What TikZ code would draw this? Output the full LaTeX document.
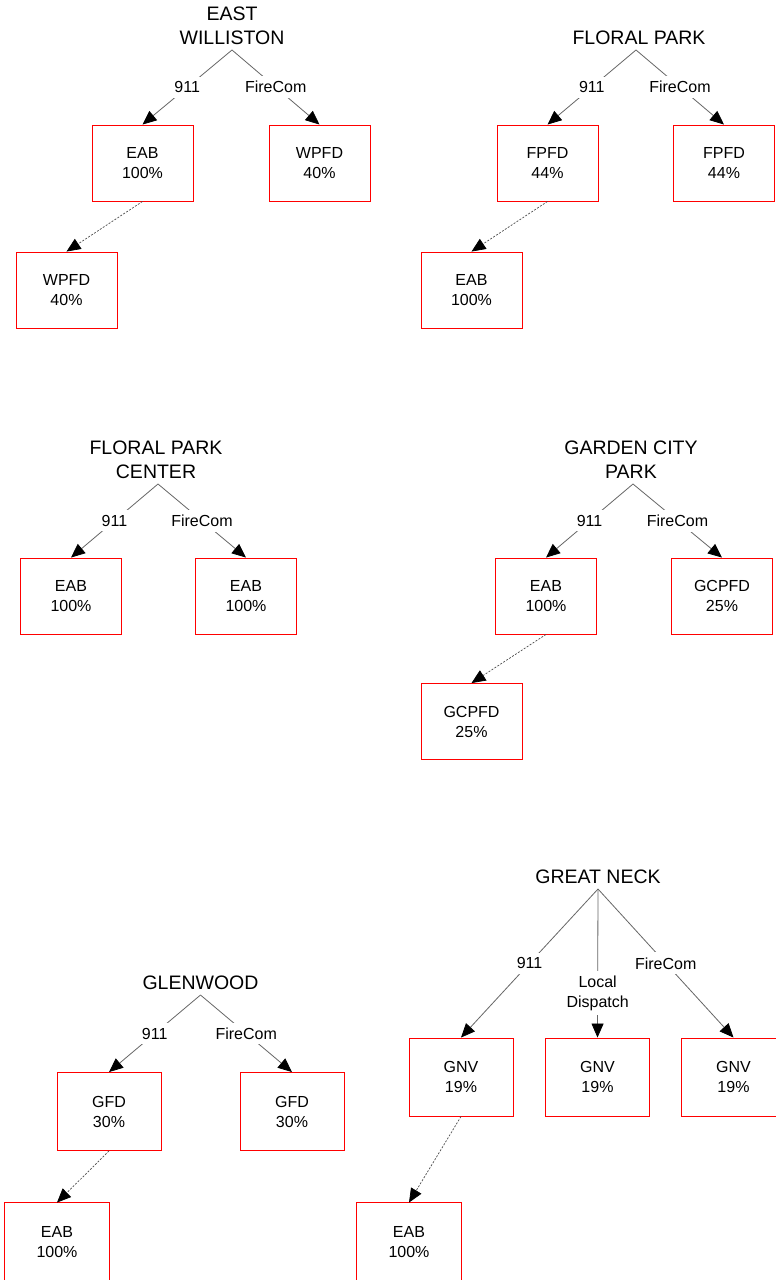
\documentclass[tikz,border=0pt]{standalone}
\usepackage{fontspec}
\setmainfont{Liberation Sans}
\usetikzlibrary{arrows.meta,positioning}

\begin{document}
\begin{tikzpicture}[
    x=1pt,y=-1pt,
    box/.style={draw=red,line width=0.9pt,minimum width=101pt,minimum height=76pt,
                inner sep=0pt,align=center,font=\fontsize{16}{20}\selectfont},
    bigbox/.style={box,minimum width=104pt,minimum height=78pt},
    rim/.style={draw=red,line width=0.9pt},
    town/.style={inner sep=0pt,align=center,font=\fontsize{19.5}{24}\selectfont},
    lbl/.style={fill=white,inner xsep=2pt,inner ysep=5pt,align=center,
                font=\fontsize{16}{20}\selectfont},
    feed/.style={draw=black!60,line width=0.8pt,
                 -{Triangle[length=14pt,width=12pt,color=black]}},
    backup/.style={draw=black!70,line width=0.7pt,dash pattern=on 2pt off 1.5pt,
                   -{Triangle[length=14pt,width=12pt,color=black]}}
  ]
  \fill[white] (0,0) rectangle (776,1280);
  \useasboundingbox (0,0) rectangle (776,1280);

  % East Williston
  \coordinate (ewP) at (232,50);
  \node[town,above=5pt of ewP] (ewT) {EAST\\WILLISTON};
  \node[box] (ewA) at (142.5,163) {EAB\\100\%};
  \node[box] (ewB) at (319.5,163) {WPFD\\40\%};
  \node[box] (ewC) at (66.5,290)  {WPFD\\40\%};
  \draw[feed] (ewP) -- node[lbl]{911} (ewA.north);
  \draw[feed] (ewP) -- node[lbl]{FireCom} (ewB.north);

  % Floral Park
  \coordinate (fpP) at (636,50);
  \node[town,above=5pt of fpP,xshift=3pt] (fpT) {FLORAL PARK};
  \node[box] (fpA) at (547.5,163) {FPFD\\44\%};
  \node[box] (fpB) at (724,163)   {FPFD\\44\%};
  \node[box] (fpC) at (471.5,290) {EAB\\100\%};
  \draw[feed] (fpP) -- node[lbl]{911} (fpA.north);
  \draw[feed] (fpP) -- node[lbl]{FireCom} (fpB.north);

  % Floral Park Center
  \coordinate (fcP) at (158,484);
  \node[town,above=5pt of fcP,xshift=-2pt] (fcT) {FLORAL PARK\\CENTER};
  \node[box] (fcA) at (71,596)  {EAB\\100\%};
  \node[box] (fcB) at (246,596) {EAB\\100\%};
  \draw[feed] (fcP) -- node[lbl]{911} (fcA.north);
  \draw[feed] (fcP) -- node[lbl]{FireCom} (fcB.north);

  % Garden City Park
  \coordinate (gcP) at (633,484);
  \node[town,above=5pt of gcP,xshift=-2pt] (gcT) {GARDEN CITY\\PARK};
  \node[box] (gcA) at (546,596)     {EAB\\100\%};
  \node[box] (gcB) at (722,596)     {GCPFD\\25\%};
  \node[box] (gcC) at (471.5,721.5) {GCPFD\\25\%};
  \draw[feed] (gcP) -- node[lbl]{911} (gcA.north);
  \draw[feed] (gcP) -- node[lbl]{FireCom} (gcB.north);

  % Glenwood
  \coordinate (gwP) at (200.5,995);
  \node[town,above=5pt of gwP] (gwT) {GLENWOOD};
  \node[bigbox] (gwA) at (109,1111.5) {GFD\\30\%};
  \node[bigbox] (gwB) at (292,1111.5) {GFD\\30\%};
  \node[bigbox,draw=none] (gwC) at (57,1242) {EAB\\100\%};
  \draw[feed] (gwP) -- node[lbl]{911} (gwA.north);
  \draw[feed] (gwP) -- node[lbl]{FireCom} (gwB.north);

  % Great Neck
  \coordinate (gnP) at (598,889);
  \node[town,above=5pt of gnP] (gnT) {GREAT NECK};
  \node[bigbox] (gnA) at (461,1077)   {GNV\\19\%};
  \node[bigbox] (gnB) at (597.5,1077) {GNV\\19\%};
  \node[bigbox] (gnC) at (733.5,1077) {GNV\\19\%};
  \node[bigbox,draw=none] (gnD) at (409,1242) {EAB\\100\%};
  \draw[feed] (gnP) -- node[lbl]{911} (gnA.north);
  \draw[feed] (gnP) -- node[lbl,pos=0.7]{Local\\Dispatch} (gnB.north);
  \draw[feed] (gnP) -- node[lbl]{FireCom} (gnC.north);

  % Boxes cut by the page edge
  \foreach \n in {gwC,gnD}{
    \draw[rim] (\n.south west) -- (\n.north west) -- (\n.north east) -- (\n.south east);
  }

  % Backup links
  \foreach \up/\down in {ewA/ewC,fpA/fpC,gcA/gcC,gwA/gwC,gnA/gnD}{
    \draw[backup] (\up.south) -- (\down.north);
  }
\end{tikzpicture}
\end{document}
